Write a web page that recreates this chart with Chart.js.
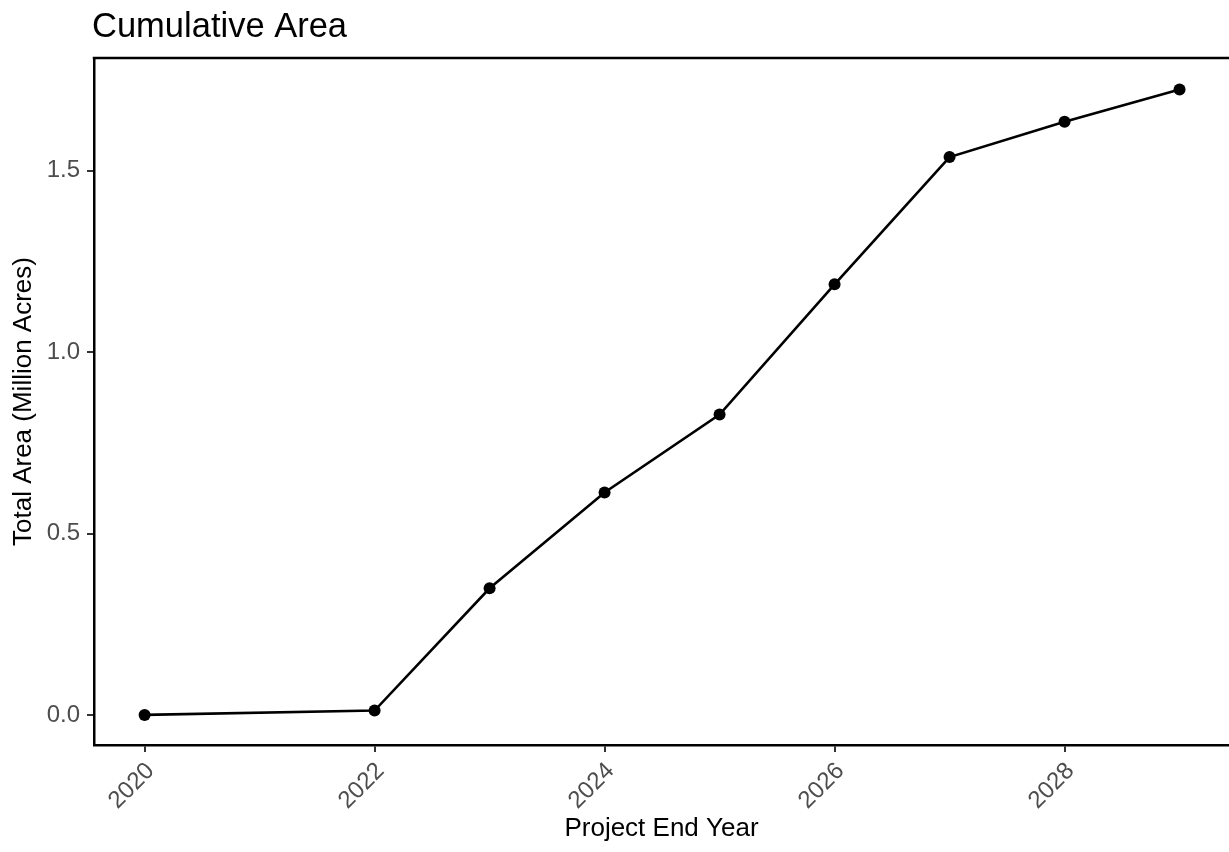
<!DOCTYPE html>
<html>
<head>
<meta charset="utf-8">
<script src="https://cdn.jsdelivr.net/npm/chart.js@4/dist/chart.umd.min.js"></script>
<style>
  html, body { margin: 0; padding: 0; background: #fff; overflow: hidden; }
  #wrap { width: 1229px; height: 852px; position: relative; }
  canvas { display: block; }
</style>
</head>
<body>
<div id="wrap"><canvas id="cumulative-area-chart"></canvas></div>
<script>
// Chart values
const years = [2020, 2022, 2023, 2024, 2025, 2026, 2027, 2028, 2029];
const totalArea = [0.0, 0.012, 0.349, 0.613, 0.828, 1.187, 1.538, 1.635, 1.724];
const xTicks = [2020, 2022, 2024, 2026, 2028];
const yTicks = [0, 0.5, 1.0, 1.5];

const chartTitle = 'Cumulative Area';
const xTitle = 'Project End Year';
const yTitle = 'Total Area (Million Acres)';

const FONT = '"Liberation Sans", Arial, Helvetica, sans-serif';
const TICK_COLOR = '#4D4D4D';

// Title and top edge of the panel (ggplot-like box, right edge falls off the canvas)
const panelExtras = {
    id: 'panelExtras',
    afterDraw(chart) {
        const { ctx, chartArea } = chart;
        ctx.save();
        ctx.strokeStyle = '#000';
        ctx.lineWidth = 2.5;
        ctx.beginPath();
        ctx.moveTo(chartArea.left - 1.25, chartArea.top);
        ctx.lineTo(chart.width, chartArea.top);
        ctx.stroke();

        ctx.fillStyle = '#000';
        ctx.font = '34.5px ' + FONT;
        ctx.textAlign = 'left';
        ctx.textBaseline = 'alphabetic';
        ctx.fillText(chartTitle, chartArea.left - 2, 37);
        ctx.restore();
    }
};

const ctx = document.getElementById('cumulative-area-chart').getContext('2d');
const chart = new Chart(ctx, {
    type: 'line',
    data: {
        datasets: [{
            label: yTitle,
            data: years.map((y, i) => ({ x: y, y: totalArea[i] })),
            borderColor: '#000',
            backgroundColor: '#000',
            borderWidth: 2.6,
            pointRadius: 6,
            pointHoverRadius: 6,
            pointBackgroundColor: '#000',
            pointBorderWidth: 0,
            tension: 0,
            clip: false
        }]
    },
    options: {
        responsive: true,
        maintainAspectRatio: false,
        animation: false,
        events: [],
        // no auto padding: the panel runs to the right edge like the reference
        layout: { autoPadding: false, padding: { top: 58, left: 0, right: 0, bottom: 0 } },
        plugins: {
            legend: { display: false },
            tooltip: { enabled: false }
        },
        scales: {
            x: {
                type: 'linear',
                min: 2019.56,
                max: 2029.43,
                afterFit(scale) { scale.height = 107; },
                afterBuildTicks(scale) { scale.ticks = xTicks.map(v => ({ value: v })); },
                border: { display: true, color: '#000', width: 2.5 },
                grid: { display: true, drawOnChartArea: false, drawTicks: true, tickLength: 7, color: '#333', lineWidth: 2 },
                ticks: {
                    color: TICK_COLOR,
                    font: { family: FONT, size: 24 },
                    minRotation: 45,
                    maxRotation: 45,
                    padding: 5,
                    labelOffset: 6,
                    callback: v => String(v)
                },
                title: {
                    display: true,
                    text: xTitle,
                    color: '#000',
                    font: { family: FONT, size: 26 },
                    padding: { top: 0, bottom: 8 }
                }
            },
            y: {
                min: -0.083,
                max: 1.811,
                afterFit(scale) { scale.width = 94; },
                afterBuildTicks(scale) { scale.ticks = yTicks.map(v => ({ value: v })); },
                border: { display: true, color: '#000', width: 2.5 },
                grid: { display: true, drawOnChartArea: false, drawTicks: true, tickLength: 7, color: '#333', lineWidth: 2 },
                ticks: {
                    color: TICK_COLOR,
                    font: { family: FONT, size: 24 },
                    padding: 7,
                    callback: v => v.toFixed(1)
                },
                title: {
                    display: true,
                    text: yTitle,
                    color: '#000',
                    font: { family: FONT, size: 26 },
                    padding: { top: 8, bottom: 0 }
                }
            }
        }
    },
    plugins: [panelExtras]
});
</script>
</body>
</html>
